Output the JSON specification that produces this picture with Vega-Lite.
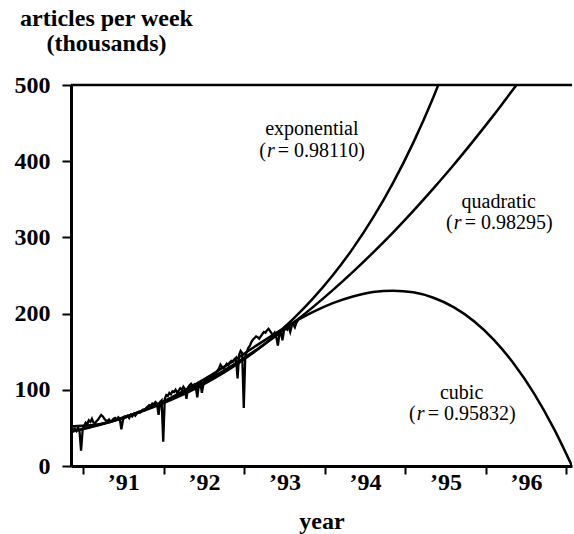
{
  "$schema": "https://vega.github.io/schema/vega-lite/v6.json",
  "width": 501,
  "height": 381,
  "autosize": {"type": "none"},
  "padding": {"left": 71, "top": 85, "right": 2, "bottom": 68},
  "background": "white",
  "config": {"view": {"stroke": null}, "font": "Liberation Serif"},
  "datasets": {
    "weekly": [
      {"year": 1990.860, "articles": 50}, {"year": 1990.879, "articles": 47}, {"year": 1990.898, "articles": 49}, {"year": 1990.918, "articles": 46},
      {"year": 1990.937, "articles": 50}, {"year": 1990.956, "articles": 45}, {"year": 1990.975, "articles": 20}, {"year": 1990.995, "articles": 48},
      {"year": 1991.014, "articles": 53}, {"year": 1991.033, "articles": 57}, {"year": 1991.052, "articles": 55}, {"year": 1991.071, "articles": 60},
      {"year": 1991.091, "articles": 58}, {"year": 1991.110, "articles": 62}, {"year": 1991.129, "articles": 57}, {"year": 1991.148, "articles": 56},
      {"year": 1991.168, "articles": 59}, {"year": 1991.187, "articles": 61}, {"year": 1991.206, "articles": 64}, {"year": 1991.225, "articles": 67},
      {"year": 1991.245, "articles": 65}, {"year": 1991.264, "articles": 62}, {"year": 1991.283, "articles": 60}, {"year": 1991.302, "articles": 59},
      {"year": 1991.322, "articles": 61}, {"year": 1991.341, "articles": 58}, {"year": 1991.360, "articles": 60}, {"year": 1991.379, "articles": 62},
      {"year": 1991.398, "articles": 63}, {"year": 1991.418, "articles": 61}, {"year": 1991.437, "articles": 64}, {"year": 1991.456, "articles": 62},
      {"year": 1991.475, "articles": 48}, {"year": 1991.495, "articles": 60}, {"year": 1991.514, "articles": 65}, {"year": 1991.533, "articles": 64},
      {"year": 1991.552, "articles": 66}, {"year": 1991.572, "articles": 63}, {"year": 1991.591, "articles": 67}, {"year": 1991.610, "articles": 65},
      {"year": 1991.629, "articles": 68}, {"year": 1991.648, "articles": 66}, {"year": 1991.668, "articles": 69}, {"year": 1991.687, "articles": 71},
      {"year": 1991.706, "articles": 70}, {"year": 1991.725, "articles": 72}, {"year": 1991.745, "articles": 74}, {"year": 1991.764, "articles": 73},
      {"year": 1991.783, "articles": 76}, {"year": 1991.802, "articles": 78}, {"year": 1991.822, "articles": 80}, {"year": 1991.841, "articles": 79},
      {"year": 1991.860, "articles": 82}, {"year": 1991.879, "articles": 81}, {"year": 1991.898, "articles": 84}, {"year": 1991.918, "articles": 82},
      {"year": 1991.937, "articles": 67}, {"year": 1991.956, "articles": 84}, {"year": 1991.975, "articles": 86}, {"year": 1991.995, "articles": 32},
      {"year": 1992.014, "articles": 88}, {"year": 1992.033, "articles": 93}, {"year": 1992.052, "articles": 92}, {"year": 1992.071, "articles": 96},
      {"year": 1992.091, "articles": 94}, {"year": 1992.110, "articles": 98}, {"year": 1992.129, "articles": 97}, {"year": 1992.148, "articles": 100},
      {"year": 1992.168, "articles": 96}, {"year": 1992.187, "articles": 99}, {"year": 1992.206, "articles": 102}, {"year": 1992.225, "articles": 100},
      {"year": 1992.245, "articles": 104}, {"year": 1992.264, "articles": 101}, {"year": 1992.283, "articles": 88}, {"year": 1992.302, "articles": 103},
      {"year": 1992.322, "articles": 106}, {"year": 1992.341, "articles": 108}, {"year": 1992.360, "articles": 105}, {"year": 1992.379, "articles": 107},
      {"year": 1992.398, "articles": 104}, {"year": 1992.418, "articles": 90}, {"year": 1992.437, "articles": 106}, {"year": 1992.456, "articles": 109},
      {"year": 1992.475, "articles": 96}, {"year": 1992.495, "articles": 108}, {"year": 1992.514, "articles": 111}, {"year": 1992.533, "articles": 114},
      {"year": 1992.552, "articles": 112}, {"year": 1992.572, "articles": 116}, {"year": 1992.591, "articles": 118}, {"year": 1992.610, "articles": 117},
      {"year": 1992.629, "articles": 120}, {"year": 1992.648, "articles": 122}, {"year": 1992.668, "articles": 125}, {"year": 1992.687, "articles": 128},
      {"year": 1992.706, "articles": 133}, {"year": 1992.725, "articles": 130}, {"year": 1992.745, "articles": 128}, {"year": 1992.764, "articles": 131},
      {"year": 1992.783, "articles": 134}, {"year": 1992.802, "articles": 132}, {"year": 1992.822, "articles": 136}, {"year": 1992.841, "articles": 138},
      {"year": 1992.860, "articles": 137}, {"year": 1992.879, "articles": 140}, {"year": 1992.898, "articles": 142}, {"year": 1992.918, "articles": 115},
      {"year": 1992.937, "articles": 146}, {"year": 1992.956, "articles": 151}, {"year": 1992.975, "articles": 148}, {"year": 1992.995, "articles": 76},
      {"year": 1993.014, "articles": 145}, {"year": 1993.033, "articles": 150}, {"year": 1993.052, "articles": 155}, {"year": 1993.071, "articles": 158},
      {"year": 1993.091, "articles": 163}, {"year": 1993.110, "articles": 166}, {"year": 1993.129, "articles": 168}, {"year": 1993.148, "articles": 170},
      {"year": 1993.168, "articles": 169}, {"year": 1993.187, "articles": 167}, {"year": 1993.206, "articles": 170}, {"year": 1993.225, "articles": 173},
      {"year": 1993.245, "articles": 176}, {"year": 1993.264, "articles": 175}, {"year": 1993.283, "articles": 178}, {"year": 1993.302, "articles": 180},
      {"year": 1993.322, "articles": 177}, {"year": 1993.341, "articles": 174}, {"year": 1993.360, "articles": 172}, {"year": 1993.379, "articles": 175},
      {"year": 1993.398, "articles": 170}, {"year": 1993.418, "articles": 158}, {"year": 1993.437, "articles": 172}, {"year": 1993.456, "articles": 176},
      {"year": 1993.475, "articles": 165}, {"year": 1993.495, "articles": 178}, {"year": 1993.514, "articles": 181}, {"year": 1993.533, "articles": 179},
      {"year": 1993.552, "articles": 183}, {"year": 1993.572, "articles": 176}, {"year": 1993.591, "articles": 184}, {"year": 1993.610, "articles": 186},
      {"year": 1993.629, "articles": 182}, {"year": 1993.648, "articles": 188}, {"year": 1993.668, "articles": 191}
    ],
    "fits": [
      {"model": "exponential", "year": 1990.85, "value": 45}, {"model": "exponential", "year": 1991.10, "value": 51.3},
      {"model": "exponential", "year": 1991.35, "value": 58.6}, {"model": "exponential", "year": 1991.60, "value": 66.9},
      {"model": "exponential", "year": 1991.85, "value": 76.3}, {"model": "exponential", "year": 1992.10, "value": 87.1},
      {"model": "exponential", "year": 1992.35, "value": 99.3}, {"model": "exponential", "year": 1992.60, "value": 113.4},
      {"model": "exponential", "year": 1992.85, "value": 129.4}, {"model": "exponential", "year": 1993.10, "value": 147.6},
      {"model": "exponential", "year": 1993.35, "value": 168.4}, {"model": "exponential", "year": 1993.60, "value": 192.2},
      {"model": "exponential", "year": 1993.85, "value": 219.3}, {"model": "exponential", "year": 1994.10, "value": 250.3},
      {"model": "exponential", "year": 1994.35, "value": 285.6}, {"model": "exponential", "year": 1994.60, "value": 325.9},
      {"model": "exponential", "year": 1994.85, "value": 371.9}, {"model": "exponential", "year": 1995.10, "value": 424.4},
      {"model": "exponential", "year": 1995.35, "value": 484.3}, {"model": "exponential", "year": 1995.41, "value": 500},
      {"model": "quadratic", "year": 1990.85, "value": 45}, {"model": "quadratic", "year": 1991.10, "value": 51.0},
      {"model": "quadratic", "year": 1991.35, "value": 58.4}, {"model": "quadratic", "year": 1991.60, "value": 67.2},
      {"model": "quadratic", "year": 1991.85, "value": 77.4}, {"model": "quadratic", "year": 1992.10, "value": 88.9},
      {"model": "quadratic", "year": 1992.35, "value": 101.8}, {"model": "quadratic", "year": 1992.60, "value": 116.1},
      {"model": "quadratic", "year": 1992.85, "value": 131.8}, {"model": "quadratic", "year": 1993.10, "value": 148.8},
      {"model": "quadratic", "year": 1993.35, "value": 167.3}, {"model": "quadratic", "year": 1993.60, "value": 187.1},
      {"model": "quadratic", "year": 1993.85, "value": 208.2}, {"model": "quadratic", "year": 1994.10, "value": 230.8},
      {"model": "quadratic", "year": 1994.35, "value": 254.7}, {"model": "quadratic", "year": 1994.60, "value": 280.1},
      {"model": "quadratic", "year": 1994.85, "value": 306.7}, {"model": "quadratic", "year": 1995.10, "value": 334.8},
      {"model": "quadratic", "year": 1995.35, "value": 364.3}, {"model": "quadratic", "year": 1995.60, "value": 395.0},
      {"model": "quadratic", "year": 1995.85, "value": 427.3}, {"model": "quadratic", "year": 1996.10, "value": 460.8},
      {"model": "quadratic", "year": 1996.35, "value": 495.8}, {"model": "quadratic", "year": 1996.38, "value": 500},
      {"model": "cubic", "year": 1990.85, "value": 52}, {"model": "cubic", "year": 1991.10, "value": 53.4},
      {"model": "cubic", "year": 1991.35, "value": 58.5}, {"model": "cubic", "year": 1991.60, "value": 66.8},
      {"model": "cubic", "year": 1991.85, "value": 77.5}, {"model": "cubic", "year": 1992.10, "value": 90.2},
      {"model": "cubic", "year": 1992.35, "value": 104.5}, {"model": "cubic", "year": 1992.60, "value": 120.0},
      {"model": "cubic", "year": 1992.85, "value": 137.0}, {"model": "cubic", "year": 1993.10, "value": 154.5},
      {"model": "cubic", "year": 1993.35, "value": 171.5}, {"model": "cubic", "year": 1993.60, "value": 187.5},
      {"model": "cubic", "year": 1993.85, "value": 201.8}, {"model": "cubic", "year": 1994.10, "value": 213.7},
      {"model": "cubic", "year": 1994.35, "value": 222.5}, {"model": "cubic", "year": 1994.60, "value": 228.3},
      {"model": "cubic", "year": 1994.85, "value": 230.1}, {"model": "cubic", "year": 1995.10, "value": 227.9},
      {"model": "cubic", "year": 1995.35, "value": 220.8}, {"model": "cubic", "year": 1995.60, "value": 208.5},
      {"model": "cubic", "year": 1995.85, "value": 190.2}, {"model": "cubic", "year": 1996.10, "value": 165.5},
      {"model": "cubic", "year": 1996.35, "value": 133.9}, {"model": "cubic", "year": 1996.60, "value": 95.1},
      {"model": "cubic", "year": 1996.85, "value": 48.1}, {"model": "cubic", "year": 1997.07, "value": 0}
    ],
    "notes": [
      {"year": 1993.84, "value": 442, "label": "exponential", "pre": "(", "r": "r", "post": "= 0.98110)", "value2": 414},
      {"year": 1996.16, "value": 347, "label": "quadratic", "pre": "(", "r": "r", "post": "= 0.98295)", "value2": 319},
      {"year": 1995.70, "value": 96, "label": "cubic", "pre": "(", "r": "r", "post": "= 0.95832)", "value2": 68}
    ]
  },
  "layer": [
    {
      "data": {"name": "weekly"},
      "mark": {"type": "line", "color": "black", "strokeWidth": 2.3, "clip": true},
      "encoding": {
        "x": {
          "field": "year", "type": "quantitative",
          "scale": {"domain": [1990.85, 1997.07], "nice": false, "zero": false},
          "axis": {
            "values": [1991, 1991.5, 1992, 1992.5, 1993, 1993.5, 1994, 1994.5, 1995, 1995.5, 1996, 1996.5, 1997],
            "labelExpr": "datum.value % 1 ? '’' + format(floor(datum.value) % 100, '02d') : ''",
            "tickOpacity": {"condition": {"test": "datum.value % 1", "value": 0}, "value": 1},
            "grid": false,
            "domainColor": "black", "domainWidth": 3,
            "tickColor": "black", "tickWidth": 2, "tickSize": 8,
            "labelFont": "Liberation Serif", "labelFontWeight": "bold", "labelFontSize": 24, "labelColor": "black",
            "labelPadding": -4, "labelFlush": false, "labelOverlap": false,
            "title": "year", "titleFont": "Liberation Serif", "titleFontWeight": "bold", "titleFontSize": 24,
            "titleColor": "black", "titleY": 62, "titleBaseline": "alphabetic"
          }
        },
        "y": {
          "field": "articles", "type": "quantitative",
          "scale": {"domain": [0, 500], "nice": false, "zero": true},
          "axis": {
            "values": [0, 100, 200, 300, 400, 500],
            "grid": false,
            "domainColor": "black", "domainWidth": 3,
            "tickColor": "black", "tickWidth": 2, "tickSize": 9,
            "labelFont": "Liberation Serif", "labelFontWeight": "bold", "labelFontSize": 24, "labelColor": "black",
            "labelPadding": 12, "labelFlush": false, "labelOverlap": false,
            "title": ["articles per week", "(thousands)"],
            "titleFont": "Liberation Serif", "titleFontWeight": "bold", "titleFontSize": 24, "titleColor": "black",
            "titleAngle": 0, "titleAlign": "center", "titleBaseline": "alphabetic",
            "titleX": 35, "titleY": -60, "titleLineHeight": 25
          }
        }
      }
    },
    {
      "data": {"name": "fits"},
      "mark": {"type": "line", "color": "black", "strokeWidth": 2.5, "interpolate": "monotone", "clip": true},
      "encoding": {
        "x": {"field": "year", "type": "quantitative"},
        "y": {"field": "value", "type": "quantitative"},
        "detail": {"field": "model"}
      }
    },
    {
      "data": {"values": [{}]},
      "mark": {"type": "rule", "color": "black", "strokeWidth": 2.5},
      "encoding": {"y": {"datum": 500}}
    },
    {
      "data": {"name": "notes"},
      "mark": {"type": "text", "font": "Liberation Serif", "fontSize": 20, "color": "black", "align": "center", "baseline": "middle"},
      "encoding": {
        "x": {"field": "year", "type": "quantitative"},
        "y": {"field": "value", "type": "quantitative"},
        "text": {"field": "label"}
      }
    },
    {
      "data": {"name": "notes"},
      "mark": {"type": "text", "font": "Liberation Serif", "fontSize": 20, "color": "black", "align": "right", "baseline": "middle", "dx": -46},
      "encoding": {
        "x": {"field": "year", "type": "quantitative"},
        "y": {"field": "value2", "type": "quantitative"},
        "text": {"field": "pre"}
      }
    },
    {
      "data": {"name": "notes"},
      "mark": {"type": "text", "font": "Liberation Serif", "fontSize": 20, "fontStyle": "italic", "color": "black", "align": "center", "baseline": "middle", "dx": -41},
      "encoding": {
        "x": {"field": "year", "type": "quantitative"},
        "y": {"field": "value2", "type": "quantitative"},
        "text": {"field": "r"}
      }
    },
    {
      "data": {"name": "notes"},
      "mark": {"type": "text", "font": "Liberation Serif", "fontSize": 20, "color": "black", "align": "left", "baseline": "middle", "dx": -34},
      "encoding": {
        "x": {"field": "year", "type": "quantitative"},
        "y": {"field": "value2", "type": "quantitative"},
        "text": {"field": "post"}
      }
    }
  ]
}
